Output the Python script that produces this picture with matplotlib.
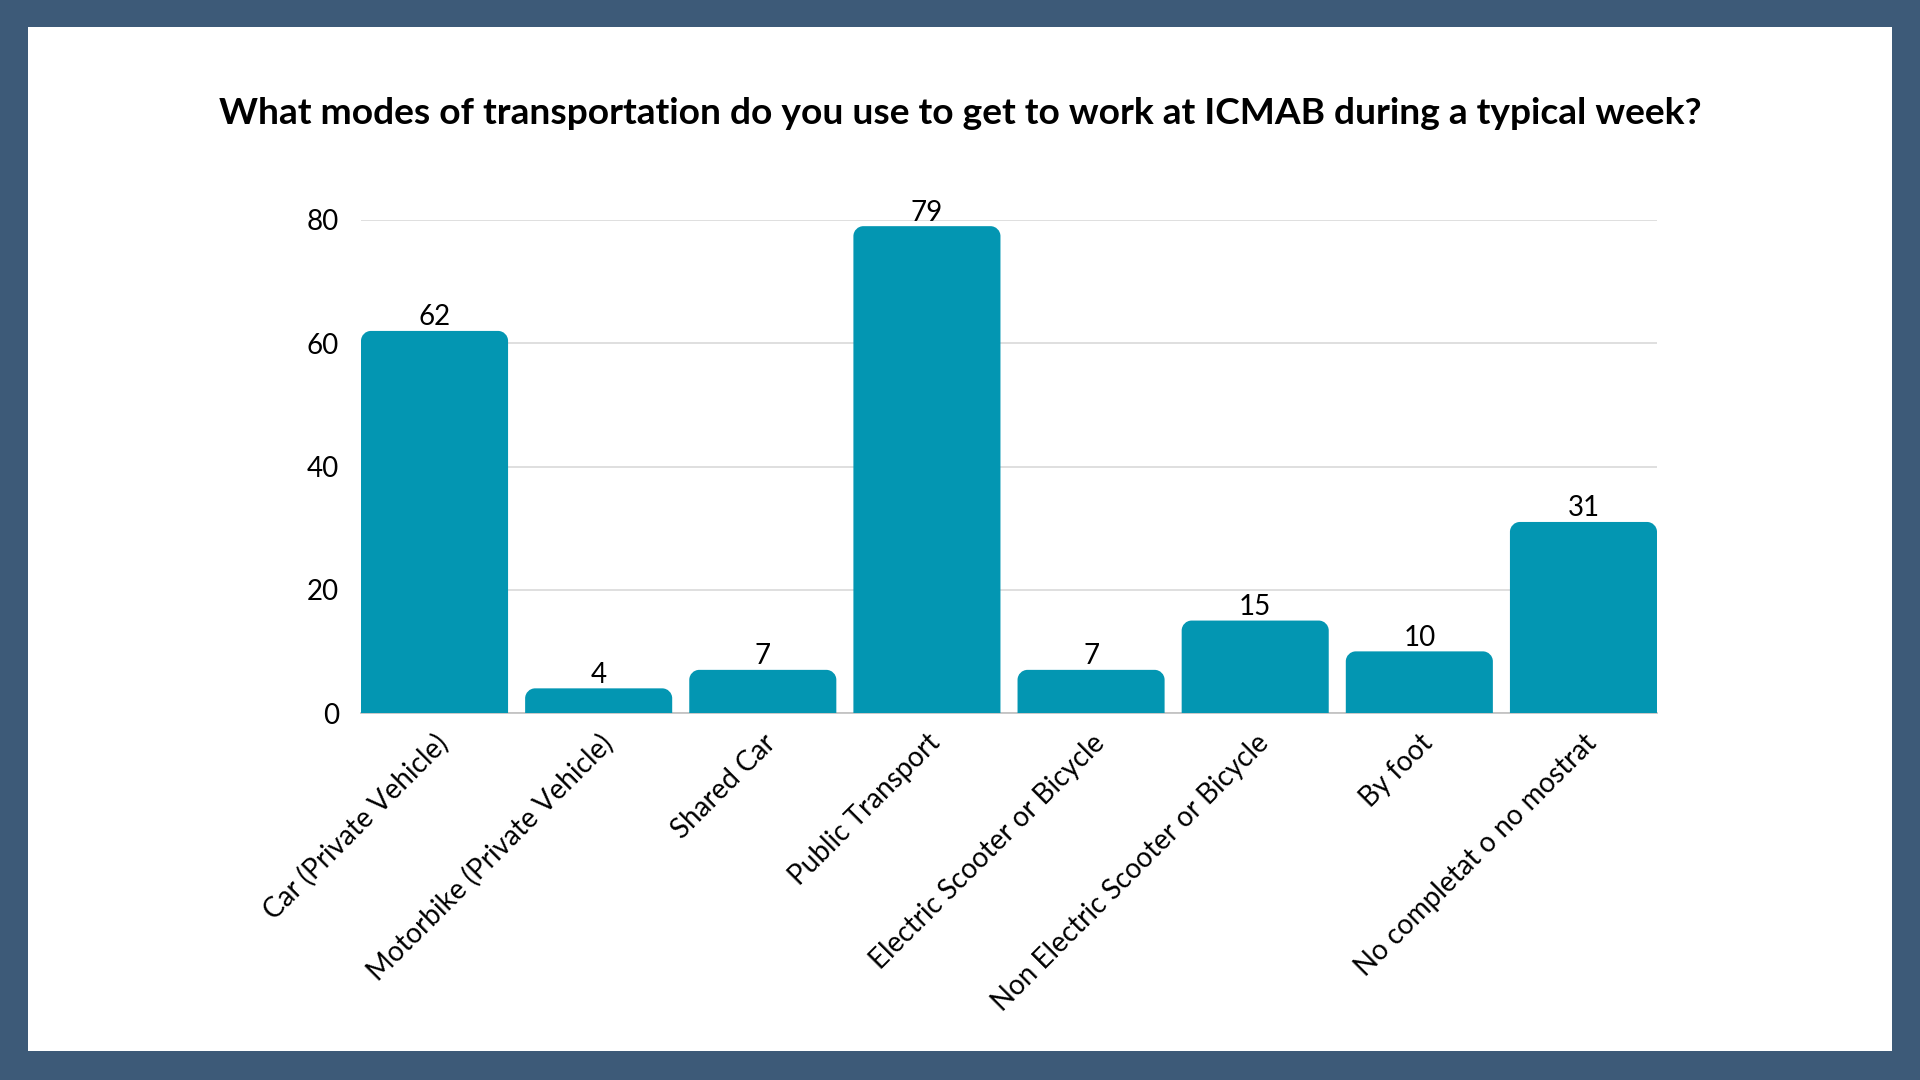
import numpy as np
import matplotlib.pyplot as plt
from matplotlib.patches import PathPatch, Rectangle
from matplotlib.path import Path

categories = [
    "Car (Private Vehicle)",
    "Motorbike (Private Vehicle)",
    "Shared Car",
    "Public Transport",
    "Electric Scooter or Bicycle",
    "Non Electric Scooter or Bicycle",
    "By foot",
    "No completat o no mostrat",
]
counts = [62, 4, 7, 79, 7, 15, 10, 31]
yticks = [0, 20, 40, 60, 80]

title = "What modes of transportation do you use to get to work at ICMAB during a typical week?"

bar_color = "#0396B2"
border_color = "#3D5A78"

plt.rcParams["font.family"] = ["Lato", "DejaVu Sans"]

fig = plt.figure(figsize=(19.2, 10.8), dpi=100)
fig.patch.set_facecolor(border_color)
# white slide area inside the border
fig.patches.append(Rectangle((0.0146, 0.0269), 0.9708, 0.9481, transform=fig.transFigure,
                             facecolor="white", edgecolor="none", zorder=-5))

fig.text(0.5, 1 - 113.5 / 1080, title, ha="center", va="center",
         fontsize=26.7, fontweight="bold", color="black")

# plot area spans from the left edge of the first bar to the right edge of the last
ax_left, ax_right = 361, 1657
ax = fig.add_axes([ax_left / 1920, 1 - 713 / 1080, (ax_right - ax_left) / 1920, 493 / 1080])
ax.set_facecolor("none")
ax.set_zorder(2)

x = np.arange(len(categories))
width = 0.896
ax.set_xlim(-width / 2, len(categories) - 1 + width / 2)
ax.set_ylim(0, 80)


def rounded_bar(x0, w, h, rx, ry):
    # bar with rounded top corners, built in data coordinates
    k = 0.5523
    ry = min(ry, h)
    verts = [
        (x0, 0), (x0, h - ry),
        (x0, h - ry + k * ry), (x0 + rx - k * rx, h), (x0 + rx, h),
        (x0 + w - rx, h),
        (x0 + w - rx + k * rx, h), (x0 + w, h - ry + k * ry), (x0 + w, h - ry),
        (x0 + w, 0), (x0, 0),
    ]
    codes = [Path.MOVETO, Path.LINETO,
             Path.CURVE4, Path.CURVE4, Path.CURVE4,
             Path.LINETO,
             Path.CURVE4, Path.CURVE4, Path.CURVE4,
             Path.LINETO, Path.CLOSEPOLY]
    return Path(verts, codes)


# corner radius about 10 px
px_x = (ax_right - ax_left) / (len(categories) - 1 + width)
px_y = 493 / 80
rx, ry = 10 / px_x, 10 / px_y

for xi, v in zip(x, counts):
    p = rounded_bar(xi - width / 2, width, v, rx, ry)
    ax.add_patch(PathPatch(p, facecolor=bar_color, edgecolor="none", zorder=3))
    ax.text(xi, v + 13.5 / px_y, str(v), ha="center", va="center",
            fontsize=20, color="black", clip_on=False)

ax.set_yticks(yticks)
ax.set_yticklabels([str(t) for t in yticks], fontsize=20)
ax.yaxis.grid(True, color="#D9D9D9", linewidth=1.2, zorder=0)
ax.set_axisbelow(True)

ax.set_xticks(x)
ax.set_xticklabels(categories, rotation=45, ha="right", va="top",
                   rotation_mode="anchor", fontsize=20)
ax.tick_params(axis="both", length=0)
ax.tick_params(axis="y", pad=15.8)
ax.tick_params(axis="x", pad=12)

for s in ["top", "right", "left"]:
    ax.spines[s].set_visible(False)
ax.spines["bottom"].set_color("#BFBFBF")
ax.spines["bottom"].set_linewidth(1.2)

fig.savefig("out.png", dpi=100, facecolor=fig.get_facecolor())
